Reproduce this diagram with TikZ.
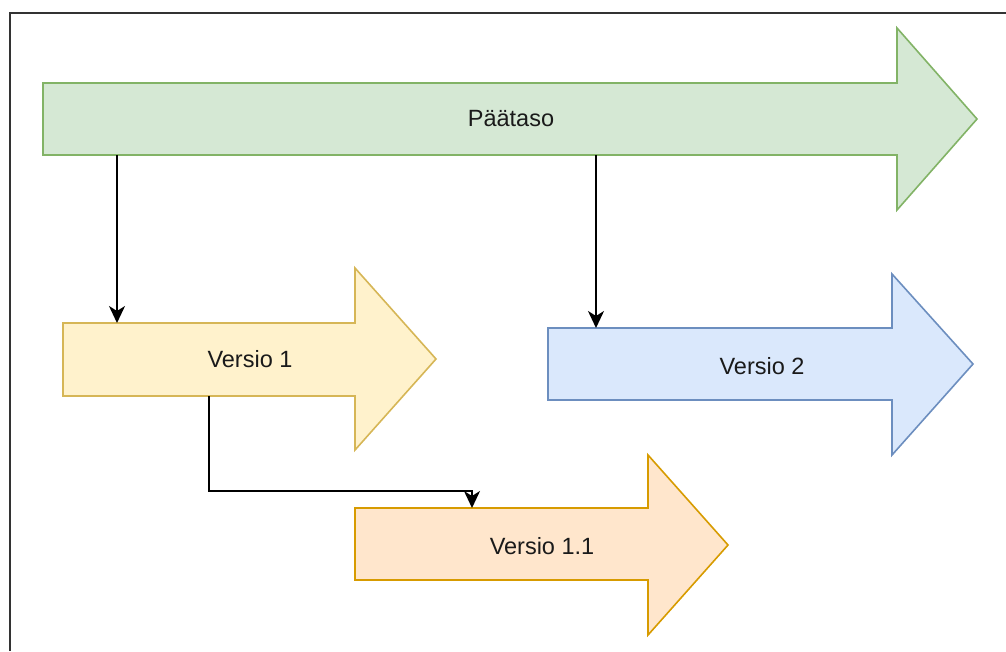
\documentclass[tikz,border=0pt]{standalone}
\usepackage{fontspec}
\setmainfont{Liberation Sans}
\usetikzlibrary{arrows.meta}
\definecolor{gfill}{HTML}{D5E8D4}\definecolor{gline}{HTML}{82B366}
\definecolor{yfill}{HTML}{FFF2CC}\definecolor{yline}{HTML}{D6B656}
\definecolor{bfill}{HTML}{DAE8FC}\definecolor{bline}{HTML}{6C8EBF}
\definecolor{ofill}{HTML}{FFE6CC}\definecolor{oline}{HTML}{D79B00}
\definecolor{frame}{HTML}{333333}
\definecolor{txt}{HTML}{1A1A1A}
\begin{document}
\begin{tikzpicture}[x=1pt,y=-1pt,
  body/.style={inner sep=0pt,outer sep=0pt,font=\fontsize{23.5pt}{27pt}\selectfont,text=txt},
  shp/.style={line width=1.6pt,line join=miter},
  conn/.style={draw=black,line width=1.8pt,-{Stealth[length=17pt,width=16pt,inset=5pt]}}]
\useasboundingbox (0,0) rectangle (1006,651);
\draw[frame,line width=2pt] (9.5,651) -- (9.5,12.5) -- (1006,12.5);
% Paataso
\draw[shp,fill=gfill,draw=gline] (43,83) -- (897,83) -- (897,28) -- (977,119) -- (897,210) -- (897,155) -- (43,155) -- cycle;
\node[body,minimum width=854pt,minimum height=72pt] (g) at (470,119) {};
\node[body] (tg) at (511,119) {Päätaso};
% Versio 1
\draw[shp,fill=yfill,draw=yline] (63,323) -- (355,323) -- (355,268) -- (436,359) -- (355,450) -- (355,396) -- (63,396) -- cycle;
\node[body,minimum width=292pt,minimum height=73pt] (v1) at (209,359.5) {};
\node[body] (t1) at (250,359) {Versio 1};
% Versio 2
\draw[shp,fill=bfill,draw=bline] (548,328) -- (892,328) -- (892,274) -- (973,364) -- (892,455) -- (892,400) -- (548,400) -- cycle;
\node[body,minimum width=344pt,minimum height=72pt] (v2) at (720,364) {};
\node[body] (t2) at (762,366) {Versio 2};
% Versio 1.1
\draw[shp,fill=ofill,draw=oline] (355,508) -- (648,508) -- (648,455) -- (728,545) -- (648,635) -- (648,580) -- (355,580) -- cycle;
\node[body,minimum width=293pt,minimum height=72pt] (v11) at (501.5,544) {};
\node[body] (t11) at (542,546) {Versio 1.1};
% connectors
\draw[conn] ([xshift=74pt]g.south west) -- ([xshift=74pt]g.south west |- v1.north);
\draw[conn] ([xshift=553pt]g.south west) -- ([xshift=553pt]g.south west |- v2.north);
\draw[conn,line join=miter] ([xshift=146pt]v1.south west) -- ++(0,95) -| ([xshift=117pt]v11.north west);
\end{tikzpicture}
\end{document}
